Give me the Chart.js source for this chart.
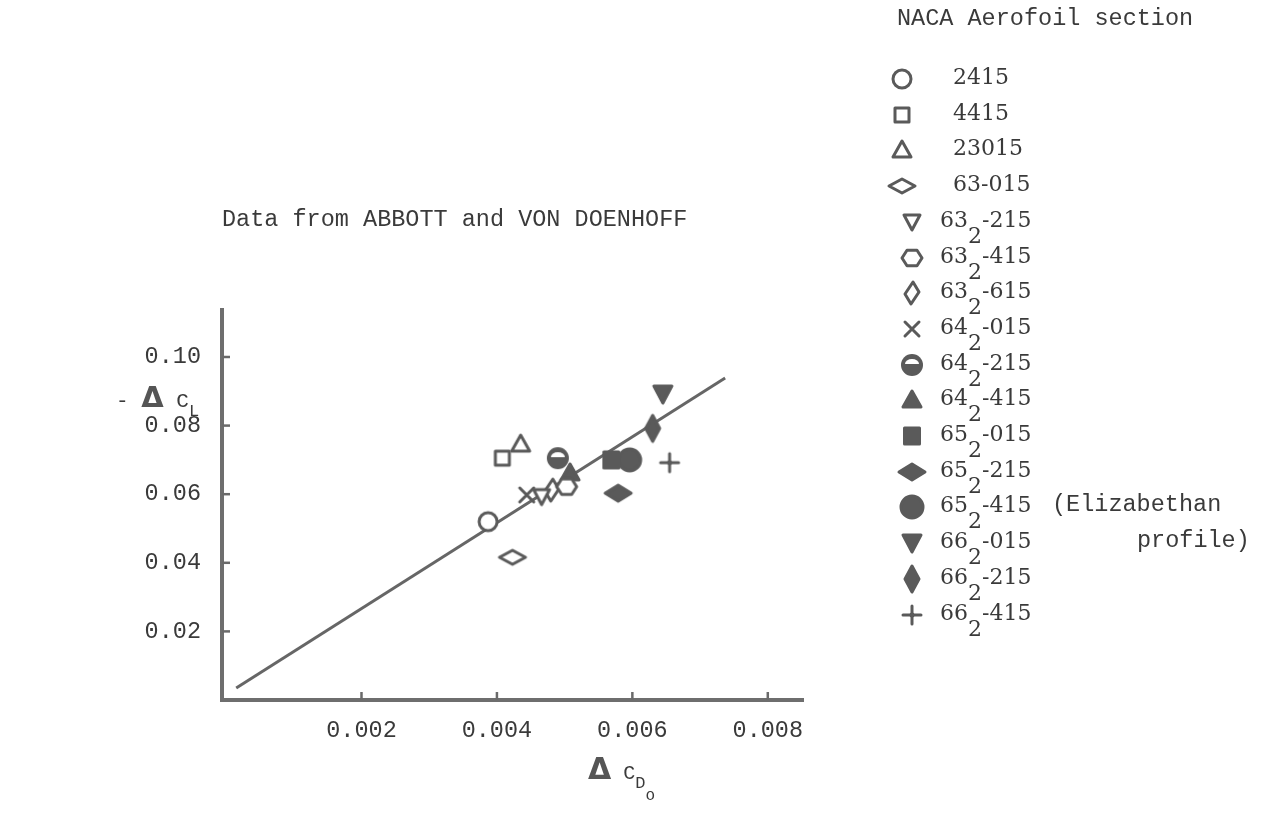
<!DOCTYPE html>
<html>
<head>
<meta charset="utf-8">
<script src="https://cdn.jsdelivr.net/npm/chart.js@4.4.1/dist/chart.umd.min.js"></script>
<style>
  html, body { margin: 0; padding: 0; background: #ffffff; overflow: hidden; }
  #wrap { position: relative; width: 1263px; height: 813px; }
  #c { position: absolute; left: 0; top: 0; }
  .t { position: absolute; font-family: 'Liberation Mono', 'DejaVu Sans Mono', monospace; color: #3a3a3a; white-space: nowrap; }
  .num { position: absolute; font-family: 'DejaVu Serif', 'Liberation Serif', serif; color: #3a3a3a; white-space: nowrap; font-size: 22px; line-height: 26px; }
  .num .sb { position: relative; top: 16px; }
  .dl { font-family: 'DejaVu Sans', sans-serif; font-weight: bold; color: #555; }
</style>
</head>
<body>
<div id="wrap">
  <canvas id="c" width="1263" height="813"></canvas>
  <div class="t" style="left:222px; top:206px; font-size:23.5px; line-height:28px;">Data from ABBOTT and VON DOENHOFF</div>
  <div class="t" style="left:897px; top:5px; font-size:23.5px; line-height:28px;">NACA Aerofoil section</div>
  <div class="t" style="left:116px; top:382px; font-size:21px; line-height:30px;">-&nbsp;<span class="dl" style="font-size:29px;">&#916;</span>&nbsp;C<span style="position:relative; top:9px; font-size:17px;">L</span></div>
  <div class="t" style="left:588px; top:754px; font-size:20px; line-height:30px;"><span class="dl" style="font-size:30px;">&#916;</span>&nbsp;C<span style="position:relative; top:9px; font-size:17px;">D<span style="position:relative; top:12px; font-size:16px;">o</span></span></div>
  <div id="legend"></div>
</div>
<script>
// ---- Data ----
const sectionNames = ['2415', '4415', '23015', '63-015', '63_2-215', '63_2-415', '63_2-615', '64_2-015',
                      '64_2-215', '64_2-415', '65_2-015', '65_2-215', '65_2-415', '66_2-015', '66_2-215', '66_2-415'];
const deltaCD0 = [0.00387, 0.00408, 0.00435, 0.00423, 0.00466, 0.00503, 0.00481, 0.00444,
                  0.00490, 0.00508, 0.00569, 0.00579, 0.00596, 0.00645, 0.00630, 0.00655];
const minusDeltaCL = [0.0520, 0.0705, 0.0746, 0.0416, 0.0593, 0.0622, 0.0612, 0.0598,
                      0.0705, 0.0662, 0.0700, 0.0603, 0.0700, 0.0892, 0.0792, 0.0692];
const fitLineCD0 = [0.00015, 0.00737];
const fitLineCL = [0.0035, 0.0939];
const xTickValues = [0.002, 0.004, 0.006, 0.008];
const xTickLabels = ['0.002', '0.004', '0.006', '0.008'];
const yTickValues = [0.02, 0.04, 0.06, 0.08, 0.10];
const yTickLabels = ['0.02', '0.04', '0.06', '0.08', '0.10'];
const noteLines = ['(Elizabethan', 'profile)'];

// ---- Styles ----
const markerStyles = ['circle', 'square', 'triangle', 'diamondWide', 'triangleDown', 'hexagon', 'diamondTilt', 'cross',
                      'halfCircle', 'triangleFill', 'squareFill', 'diamondWideFill', 'circleFill', 'triangleDownFill', 'diamondTallFill', 'plus'];
const INK = '#5a5a5a';
const TEXT = '#3a3a3a';

function poly(ctx, pts) {
  ctx.beginPath();
  ctx.moveTo(pts[0][0], pts[0][1]);
  for (let i = 1; i < pts.length; i++) ctx.lineTo(pts[i][0], pts[i][1]);
  ctx.closePath();
}
function drawMarker(ctx, kind, cx, cy) {
  ctx.save();
  ctx.lineWidth = 3;
  ctx.strokeStyle = INK;
  ctx.fillStyle = INK;
  ctx.lineJoin = 'round';
  ctx.lineCap = 'round';
  const open = (fn) => { fn(); ctx.fillStyle = '#fff'; ctx.fill(); ctx.stroke(); };
  const filled = (fn) => { fn(); ctx.fill(); ctx.stroke(); };
  switch (kind) {
    case 'circle': open(() => { ctx.beginPath(); ctx.arc(cx, cy, 9, 0, Math.PI * 2); }); break;
    case 'square': open(() => { ctx.beginPath(); ctx.rect(cx - 7, cy - 7, 14, 14); }); break;
    case 'triangle': open(() => poly(ctx, [[cx, cy - 9], [cx + 9, cy + 7], [cx - 9, cy + 7]])); break;
    case 'diamondWide': open(() => poly(ctx, [[cx - 13, cy], [cx, cy - 7], [cx + 13, cy], [cx, cy + 7]])); break;
    case 'triangleDown': open(() => poly(ctx, [[cx - 8, cy - 7], [cx + 8, cy - 7], [cx, cy + 8]])); break;
    case 'hexagon': open(() => {
      const p = [];
      for (let k = 0; k < 6; k++) { const a = k * Math.PI / 3; p.push([cx + 10 * Math.cos(a), cy + 9 * Math.sin(a)]); }
      poly(ctx, p);
    }); break;
    case 'diamondTilt': open(() => poly(ctx, [[cx + 1, cy - 11], [cx + 7, cy - 1], [cx - 1, cy + 11], [cx - 7, cy + 1]])); break;
    case 'cross':
      ctx.beginPath(); ctx.moveTo(cx - 7, cy - 7); ctx.lineTo(cx + 7, cy + 7);
      ctx.moveTo(cx + 7, cy - 7); ctx.lineTo(cx - 7, cy + 7); ctx.stroke(); break;
    case 'halfCircle':
      ctx.beginPath(); ctx.arc(cx, cy, 11, 0, Math.PI * 2); ctx.fill();
      ctx.fillStyle = '#fff'; ctx.beginPath(); ctx.ellipse(cx, cy - 1, 7, 5, 0, Math.PI, Math.PI * 2); ctx.closePath(); ctx.fill();
      break;
    case 'triangleFill': filled(() => poly(ctx, [[cx, cy - 9], [cx + 9, cy + 7], [cx - 9, cy + 7]])); break;
    case 'squareFill': filled(() => { ctx.beginPath(); ctx.rect(cx - 7.5, cy - 8, 15, 16); }); break;
    case 'diamondWideFill': filled(() => poly(ctx, [[cx - 13, cy], [cx, cy - 8], [cx + 13, cy], [cx, cy + 8]])); break;
    case 'circleFill': filled(() => { ctx.beginPath(); ctx.arc(cx, cy, 11, 0, Math.PI * 2); }); break;
    case 'triangleDownFill': filled(() => poly(ctx, [[cx - 9, cy - 8], [cx + 9, cy - 8], [cx, cy + 9]])); break;
    case 'diamondTallFill': filled(() => poly(ctx, [[cx, cy - 13], [cx + 7, cy], [cx, cy + 13], [cx - 7, cy]])); break;
    case 'plus':
      ctx.beginPath(); ctx.moveTo(cx - 9, cy); ctx.lineTo(cx + 9, cy);
      ctx.moveTo(cx, cy - 9); ctx.lineTo(cx, cy + 9); ctx.stroke();
      ctx.beginPath(); ctx.arc(cx, cy, 2.5, 0, Math.PI * 2); ctx.fill(); break;
  }
  ctx.restore();
}
function makeMarker(kind) {
  const c = document.createElement('canvas');
  c.width = 36; c.height = 36;
  drawMarker(c.getContext('2d'), kind, 18, 18);
  return c;
}
const markerImages = markerStyles.map(makeMarker);

// ---- Chart ----
const datasets = [{
  type: 'line',
  label: 'fit',
  data: fitLineCD0.map((x, i) => ({ x: x, y: fitLineCL[i] })),
  borderColor: '#666',
  borderWidth: 3,
  pointRadius: 0,
  showLine: true,
  fill: false,
  order: 10
}];
sectionNames.forEach((n, i) => {
  datasets.push({
    label: n,
    data: [{ x: deltaCD0[i], y: minusDeltaCL[i] }],
    pointStyle: markerImages[i],
    pointRadius: 12,
    clip: false,
    order: 0
  });
});

const inwardTicks = {
  id: 'inwardTicks',
  afterDraw(chart) {
    const ctx = chart.ctx, xs = chart.scales.x, ys = chart.scales.y, a = chart.chartArea;
    ctx.save();
    ctx.strokeStyle = '#6a6a6a';
    ctx.lineWidth = 2.5;
    xTickValues.forEach(v => {
      const px = xs.getPixelForValue(v);
      ctx.beginPath(); ctx.moveTo(px, a.bottom); ctx.lineTo(px, a.bottom - 8); ctx.stroke();
    });
    yTickValues.forEach(v => {
      const py = ys.getPixelForValue(v);
      ctx.beginPath(); ctx.moveTo(a.left, py); ctx.lineTo(a.left + 8, py); ctx.stroke();
    });
    ctx.restore();
  }
};

const tickFont = { family: "'Liberation Mono', 'DejaVu Sans Mono', monospace", size: 23.5 };
new Chart(document.getElementById('c'), {
  type: 'scatter',
  data: { datasets: datasets },
  options: {
    responsive: false,
    animation: false,
    devicePixelRatio: 1,
    layout: { padding: { left: 100, right: 460, top: 310, bottom: 40 } },
    plugins: { legend: { display: false }, tooltip: { enabled: false }, title: { display: false } },
    scales: {
      x: {
        type: 'linear',
        min: -0.00006,
        max: 0.00852,
        afterBuildTicks: (s) => { s.ticks = xTickValues.map(v => ({ value: v })); },
        afterFit: (s) => { s.height = 73; },
        grid: { display: false },
        border: { display: true, color: '#6e6e6e', width: 4 },
        ticks: {
          font: tickFont, color: TEXT, padding: 9, maxRotation: 0, autoSkip: false,
          callback: (v) => { const i = xTickValues.findIndex(t => Math.abs(t - v) < 1e-9); return i >= 0 ? xTickLabels[i] : ''; }
        }
      },
      y: {
        type: 'linear',
        min: 0,
        max: 0.1137,
        afterBuildTicks: (s) => { s.ticks = yTickValues.map(v => ({ value: v })); },
        afterFit: (s) => { s.width = 122; },
        grid: { display: false },
        border: { display: true, color: '#6e6e6e', width: 4 },
        ticks: {
          font: tickFont, color: TEXT, padding: 13, autoSkip: false,
          callback: (v) => { const i = yTickValues.findIndex(t => Math.abs(t - v) < 1e-9); return i >= 0 ? yTickLabels[i] : ''; }
        }
      }
    }
  },
  plugins: [inwardTicks]
});

// ---- HTML legend built from the same arrays ----
const legend = document.getElementById('legend');
const rowTop = 77, rowStep = 35.7;
sectionNames.forEach((name, i) => {
  const cy = rowTop + i * rowStep;
  const hasSub = name.indexOf('_') >= 0;
  const mc = document.createElement('canvas');
  mc.width = 36; mc.height = 36;
  mc.style.position = 'absolute';
  const mx = hasSub ? 912 : 902;
  mc.style.left = (mx - 18) + 'px';
  mc.style.top = (cy + 2 - 18) + 'px';
  drawMarker(mc.getContext('2d'), markerStyles[i], 18, 18);
  legend.appendChild(mc);
  const d = document.createElement('div');
  d.className = 'num';
  d.style.left = (hasSub ? 940 : 953) + 'px';
  d.style.top = (cy - 13) + 'px';
  if (hasSub) {
    const parts = name.split('_');
    const base = parts[0], sub = parts[1].charAt(0), rest = parts[1].slice(1);
    d.innerHTML = base + '<span class="sb">' + sub + '</span>' + rest;
  } else {
    d.textContent = name;
  }
  legend.appendChild(d);
  if (name === '65_2-415') {
    const n1 = document.createElement('div');
    n1.className = 't';
    n1.style.cssText = 'left:1052px; top:' + (cy - 14) + 'px; font-size:23.5px; line-height:28px;';
    n1.textContent = noteLines[0];
    legend.appendChild(n1);
    const n2 = document.createElement('div');
    n2.className = 't';
    n2.style.cssText = 'left:1137px; top:' + (cy + rowStep - 14) + 'px; font-size:23.5px; line-height:28px;';
    n2.textContent = noteLines[1];
    legend.appendChild(n2);
  }
});
</script>
</body>
</html>
